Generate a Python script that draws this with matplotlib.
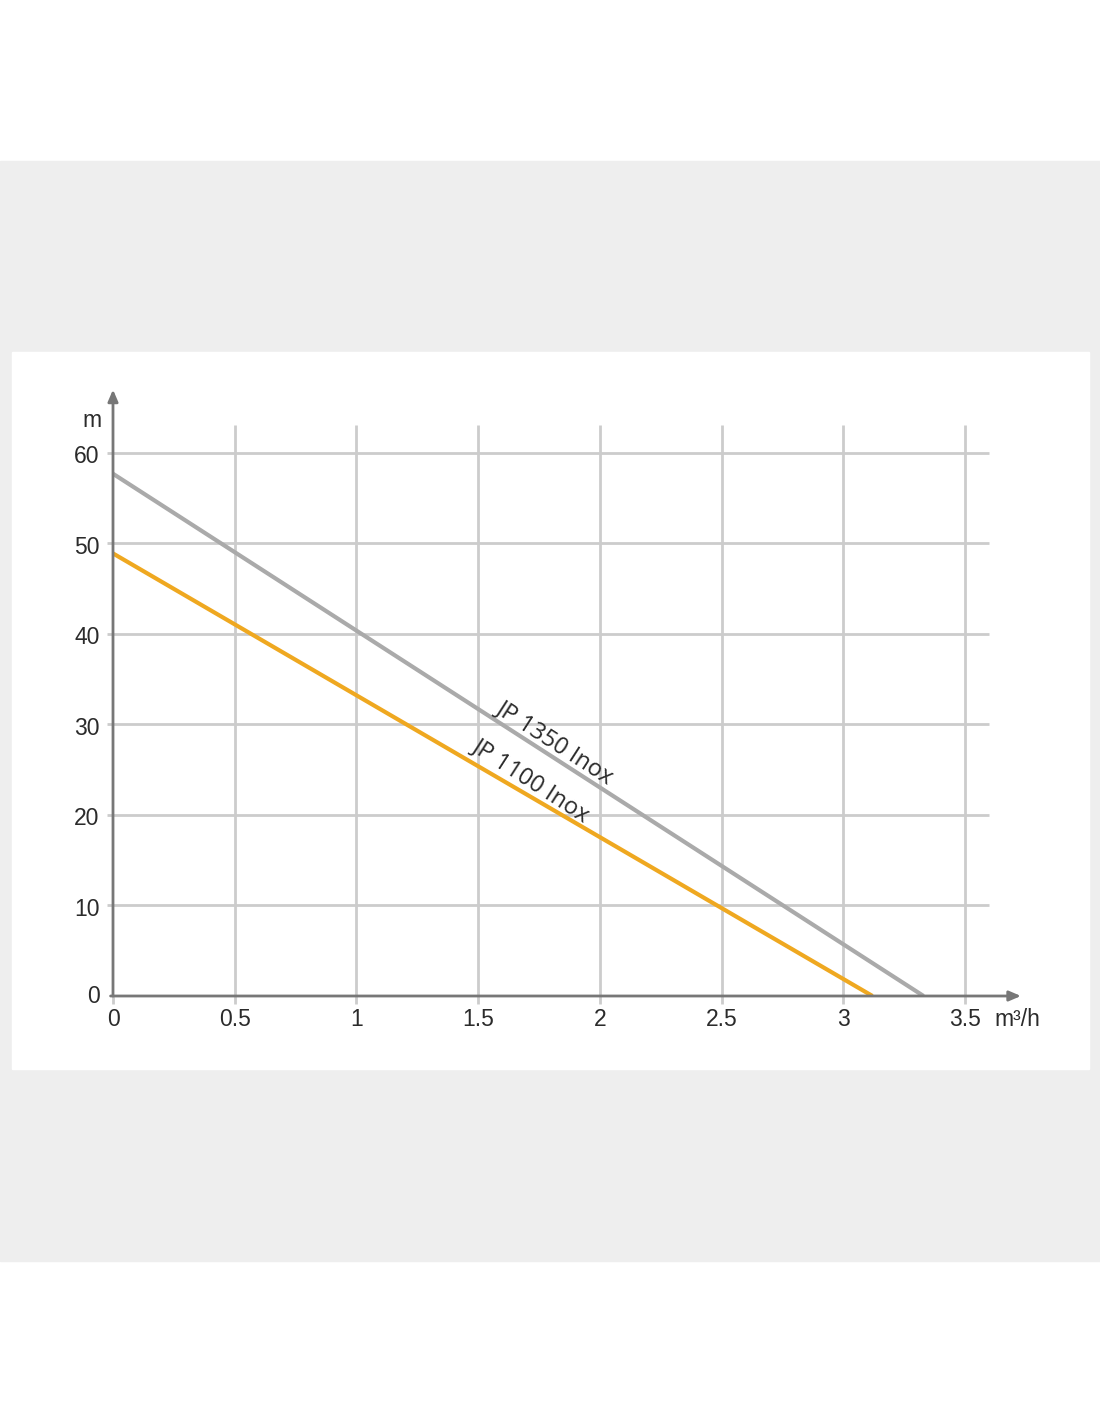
import matplotlib
matplotlib.use("Agg")
import matplotlib.pyplot as plt
from matplotlib.patches import Rectangle
import numpy as np

# pump curves (flow m3/h, head m)
flow_1350 = [0, 3.33]
head_1350 = [57.7, 0]
flow_1100 = [0, 3.12]
head_1100 = [48.9, 0]

xticks = [0, 0.5, 1, 1.5, 2, 2.5, 3, 3.5]
xlabels = ["0", "0.5", "1", "1.5", "2", "2.5", "3", "3.5"]
yticks = [0, 10, 20, 30, 40, 50, 60]

grid_c = "#cccccc"
axis_c = "#777777"
txt_c = "#2b2b2b"

fig = plt.figure(figsize=(11, 14.22), dpi=100)
fig.patch.set_facecolor("white")
# grey band + white panel (behind the axes)
fig.patches.append(Rectangle((0, 1 - 1261/1422), 1, (1261 - 161)/1422,
                             transform=fig.transFigure, color="#eeeeee", zorder=-3))
fig.patches.append(Rectangle((12/1100, 1 - 1069/1422), (1089 - 12)/1100, (1069 - 352)/1422,
                             transform=fig.transFigure, color="white", zorder=-2))

ax = fig.add_axes([113/1100, 1 - 996/1422, 925/1100, 606.4/1422])
ax.set_facecolor("none")
ax.set_xlim(0, 3.8)
ax.set_ylim(0, 67)
for s in ax.spines.values():
    s.set_visible(False)

# grid
ax.vlines(xticks[1:], -0.9, 63.1, color=grid_c, lw=2, zorder=1, clip_on=False)
ax.hlines(yticks[1:], -0.025, 3.6, color=grid_c, lw=2, zorder=1, clip_on=False)
ax.vlines([0], -0.9, 0, color=grid_c, lw=2, zorder=1, clip_on=False)

# curves
ax.plot(flow_1350, head_1350, color="#aaaaaa", lw=3, zorder=3, solid_capstyle="butt")
ax.plot(flow_1100, head_1100, color="#efa820", lw=3, zorder=3, solid_capstyle="butt")

# axes with arrows
ax.annotate("", xy=(0, 67.0), xytext=(0, 0),
            arrowprops=dict(arrowstyle="-|>,head_length=0.7,head_width=0.3", color=axis_c, lw=2,
                            shrinkA=0, shrinkB=0), annotation_clip=False, zorder=4)
ax.annotate("", xy=(3.73, 0), xytext=(-0.01, 0),
            arrowprops=dict(arrowstyle="-|>,head_length=0.7,head_width=0.3", color=axis_c, lw=2,
                            shrinkA=0, shrinkB=0), annotation_clip=False, zorder=4)

ax.set_xticks([])
ax.set_yticks([])
tick_font = dict(family="Liberation Sans", size=16.5, color=txt_c)
for x, lab in zip(xticks, xlabels):
    ax.text(x, -2.6, lab, ha="center", va="center", **tick_font)
for y in yticks:
    ax.text(-0.055, y - (0.1 if y == 0 else 0.4), str(y), ha="right", va="center", **tick_font)
ax.text(3.62, -2.6, "m³/h", ha="left", va="center", **tick_font)
ax.text(-0.085, 63.6, "m", ha="center", va="center", **tick_font)

ang = -32.8
lab_font = dict(family="Open Sans", size=17, color=txt_c)
ax.text(1.816, 28.0, "JP 1350 Inox", rotation=ang, ha="center", va="center", **lab_font)
ax.text(1.717, 23.8, "JP 1100 Inox", rotation=ang, ha="center", va="center", **lab_font)

fig.savefig("out.png", dpi=100, facecolor=fig.get_facecolor())
